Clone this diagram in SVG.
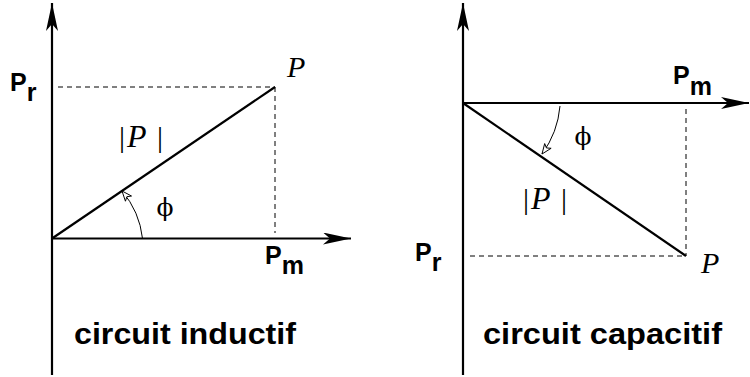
<svg xmlns="http://www.w3.org/2000/svg" width="750" height="377" viewBox="0 0 750 377">
<style>
.ax{stroke:#000;stroke-width:2.2;fill:none}
.dash{stroke:#000;stroke-width:1;stroke-dasharray:5 4;fill:none}
.arc{stroke:#000;stroke-width:1;fill:none}
.lab{font-family:"Liberation Sans",Arial,sans-serif;font-weight:bold;font-size:25px;fill:#000}
.cap{font-family:"Liberation Sans",Arial,sans-serif;font-weight:bold;font-size:30px;fill:#000}
.math{font-family:"Liberation Serif","DejaVu Serif",serif;font-size:30px;fill:#000}
.phi{font-family:"DejaVu Serif","Liberation Serif",serif;font-size:25px;fill:#000}
.scr{font-family:"Liberation Serif","DejaVu Serif",serif;font-style:italic;font-size:30px;fill:#000}
</style>
<defs>
<marker id="big" markerUnits="userSpaceOnUse" viewBox="0 0 28 12" refX="28" refY="6" markerWidth="28" markerHeight="12" orient="auto">
<path d="M0,0 L28,6 L0,12 L7,6 Z" fill="#000"/>
</marker>
<marker id="open" markerUnits="userSpaceOnUse" viewBox="-1 -1 12 10" refX="10" refY="4" markerWidth="12" markerHeight="10" orient="auto">
<path d="M0,0 L10,4 L0,8 L2.5,4 Z" fill="#fff" stroke="#000" stroke-width="0.9"/>
</marker>
</defs>
<g id="connectors">
<line class="ax" x1="52" y1="375" x2="52" y2="3" marker-end="url(#big)"/>
<line class="ax" x1="52" y1="238.5" x2="351" y2="238.5" marker-end="url(#big)"/>
<line class="dash" x1="58" y1="87" x2="275" y2="87"/>
<line class="dash" x1="275" y1="87" x2="275" y2="233"/>
<line class="ax" x1="52" y1="238.5" x2="275" y2="87"/>
<path class="arc" d="M142.5,238.5 A88,88 0 0,0 122,191" marker-end="url(#open)"/>
<line class="ax" x1="463" y1="375" x2="463" y2="3" marker-end="url(#big)"/>
<line class="ax" x1="463" y1="103" x2="749" y2="103" marker-end="url(#big)"/>
<line class="dash" x1="470" y1="256" x2="686" y2="256"/>
<line class="dash" x1="686" y1="109" x2="686" y2="256"/>
<line class="ax" x1="463" y1="103" x2="686" y2="256"/>
<path class="arc" d="M560,106 A95,95 0 0,1 542,154" marker-end="url(#open)"/>
</g>
<g id="left-labels">
<text class="lab" x="10" y="91">P<tspan y="101">r</tspan></text>
<text class="lab" x="265" y="264">P<tspan y="274">m</tspan></text>
<text class="scr" x="287" y="77">P</text>
<text class="math" y="147"><tspan x="119">|</tspan><tspan x="127" font-style="italic" font-size="32">P</tspan><tspan x="157">|</tspan></text>
<text class="phi" x="165" y="216" text-anchor="middle">ϕ</text>
<text class="cap" x="74" y="344" textLength="222" lengthAdjust="spacingAndGlyphs">circuit inductif</text>
</g>
<g id="right-labels">
<text class="lab" x="673" y="84">P<tspan y="95">m</tspan></text>
<text class="lab" x="415" y="261">P<tspan y="271">r</tspan></text>
<text class="scr" x="701" y="273">P</text>
<text class="math" y="209"><tspan x="523">|</tspan><tspan x="531" font-style="italic" font-size="32">P</tspan><tspan x="561">|</tspan></text>
<text class="phi" x="583" y="145" text-anchor="middle">ϕ</text>
<text class="cap" x="483" y="344" textLength="239" lengthAdjust="spacingAndGlyphs">circuit capacitif</text>
</g>
</svg>
